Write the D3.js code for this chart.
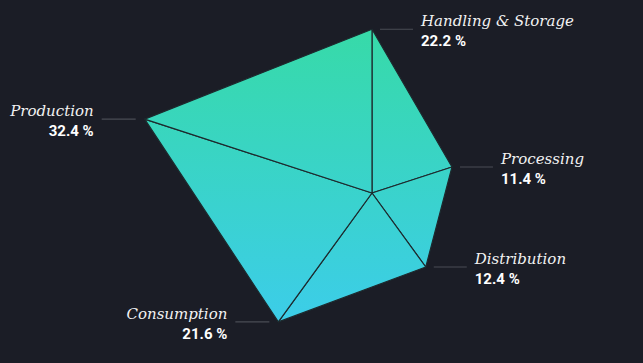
<!DOCTYPE html>
<html>
<head>
<meta charset="utf-8">
<script src="https://cdn.jsdelivr.net/npm/d3@7"></script>
<style>
  html, body { margin: 0; padding: 0; background: #1b1d26; }
  svg { display: block; }
  .name { font-family: "DejaVu Serif", serif; font-style: italic; font-size: 15px; fill: #f2f2f2; }
  .pct { font-family: Roboto, "Noto Sans", sans-serif; font-weight: bold; font-size: 15px; fill: #ffffff; }
</style>
</head>
<body>
<script>
// values in percent, clockwise from top
var categories = ["Handling & Storage", "Processing", "Distribution", "Consumption", "Production"]
var shares = [22.2, 11.4, 12.4, 21.6, 32.4]
var shareLabels = ["22.2 %", "11.4 %", "12.4 %", "21.6 %", "32.4 %"]

var screen = {width: 643, height: 363}
var center = {x: 372, y: 193}

var svg = d3.select("body")
  .append("svg")
  .attr("width", screen.width)
  .attr("height", screen.height)

var rScale = d3.scaleLinear()
  .domain([0, 32.4])
  .range([0, 239])

var aScale = d3.scaleLinear()
  .domain([0, categories.length])
  .range([0, 2 * Math.PI])

var points = shares.map(function(v, i) {
  var a = aScale(i)
  return {
    name: categories[i],
    label: shareLabels[i],
    x: center.x + rScale(v) * Math.sin(a),
    y: center.y - rScale(v) * Math.cos(a)
  }
})

var grad = svg.append("defs")
  .append("linearGradient")
  .attr("id", "fillGrad")
  .attr("gradientUnits", "userSpaceOnUse")
  .attr("x1", 0).attr("x2", 0)
  .attr("y1", d3.min(points, function(d) { return d.y }))
  .attr("y2", d3.max(points, function(d) { return d.y }))
grad.append("stop").attr("offset", "0%").attr("stop-color", "#37daa8")
grad.append("stop").attr("offset", "100%").attr("stop-color", "#3ccde9")

// one triangle per category: center, this vertex, next vertex
svg.append("g")
  .selectAll("path")
  .data(points)
  .enter()
  .append("path")
  .attr("d", function(d, i) {
    var n = points[(i + 1) % points.length]
    return "M" + center.x + "," + center.y + "L" + d.x + "," + d.y + "L" + n.x + "," + n.y + "Z"
  })
  .attr("fill", "url(#fillGrad)")
  .attr("stroke", "#1d2a2e")
  .attr("stroke-width", 1.2)
  .attr("stroke-linejoin", "round")

var labels = svg.append("g")
  .selectAll("g")
  .data(points)
  .enter()
  .append("g")

labels.append("line")
  .attr("x1", function(d) { return d.x >= center.x ? d.x + 8 : d.x - 9 })
  .attr("x2", function(d) { return d.x >= center.x ? d.x + 41 : d.x - 43 })
  .attr("y1", function(d) { return d.y })
  .attr("y2", function(d) { return d.y })
  .attr("stroke", "#4a4c55")
  .attr("stroke-width", 1.2)

labels.append("text")
  .attr("class", "name")
  .attr("x", function(d) { return d.x >= center.x ? d.x + 49 : d.x - 51 })
  .attr("y", function(d) { return d.y - 3 })
  .attr("text-anchor", function(d) { return d.x >= center.x ? "start" : "end" })
  .text(function(d) { return d.name })

labels.append("text")
  .attr("class", "pct")
  .attr("x", function(d) { return d.x >= center.x ? d.x + 49 : d.x - 51 })
  .attr("y", function(d) { return d.y + 17 })
  .attr("text-anchor", function(d) { return d.x >= center.x ? "start" : "end" })
  .text(function(d) { return d.label })
</script>
</body>
</html>
